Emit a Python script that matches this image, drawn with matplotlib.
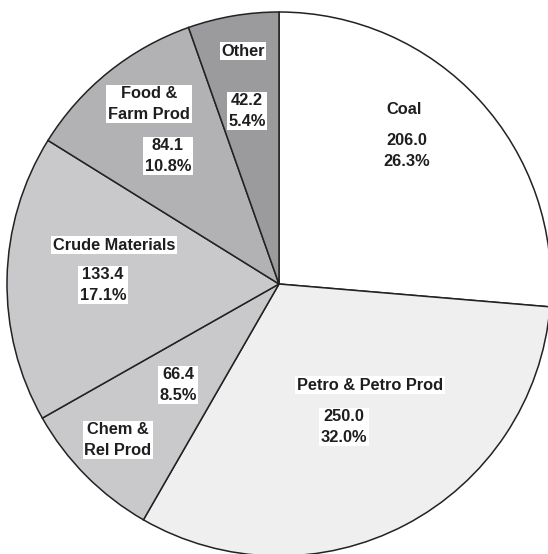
import matplotlib
matplotlib.use("Agg")
import matplotlib.pyplot as plt

categories = ["Coal", "Petro & Petro Prod", "Chem &\nRel Prod", "Crude Materials", "Food &\nFarm Prod", "Other"]
values = [206.0, 250.0, 66.4, 133.4, 84.1, 42.2]
colors = ["#ffffff", "#efefef", "#c9c9cb", "#c9c9cb", "#b2b2b4", "#9b9b9e"]

# label placement in pixel coordinates of the 548x554 image (name centre, value centre)
name_pos = [(404, 109), (370, 385), (118, 440), (114, 245), (149, 104), (243, 51)]
value_pos = [(407, 151), (344, 427), (178, 385), (103, 285), (168, 156), (247, 111)]

W, H = 548, 554
CX, CY, R = 279, 284, 272

fig = plt.figure(figsize=(W / 100, H / 100), dpi=100)
ax = fig.add_axes([0, 0, 1, 1])
ax.pie(values, colors=colors, startangle=90, counterclock=False, radius=1.0,
       wedgeprops=dict(edgecolor="#222222", linewidth=1.1))
ax.set_xlim(-CX / R, (W - CX) / R)
ax.set_ylim(-(H - CY) / R, CY / R)
ax.set_aspect("equal")
ax.axis("off")

total = sum(values)

def to_data(p):
    return ((p[0] - CX) / R, (CY - p[1]) / R)

box = dict(facecolor="white", edgecolor="none", pad=1.2)
font = dict(family="Liberation Sans", weight="bold", size=11.8, color="#1e1e1e")
for name, v, npos, vpos in zip(categories, values, name_pos, value_pos):
    x, y = to_data(npos)
    ax.text(x, y, name, ha="center", va="center", ma="center", linespacing=1.42, bbox=box, **font)
    x, y = to_data(vpos)
    ax.text(x, y, f"{v:.1f}\n{v / total * 100:.1f}%", ha="center", va="center", ma="center",
            linespacing=1.42, bbox=box, **font)

fig.savefig("out.png", dpi=100)
